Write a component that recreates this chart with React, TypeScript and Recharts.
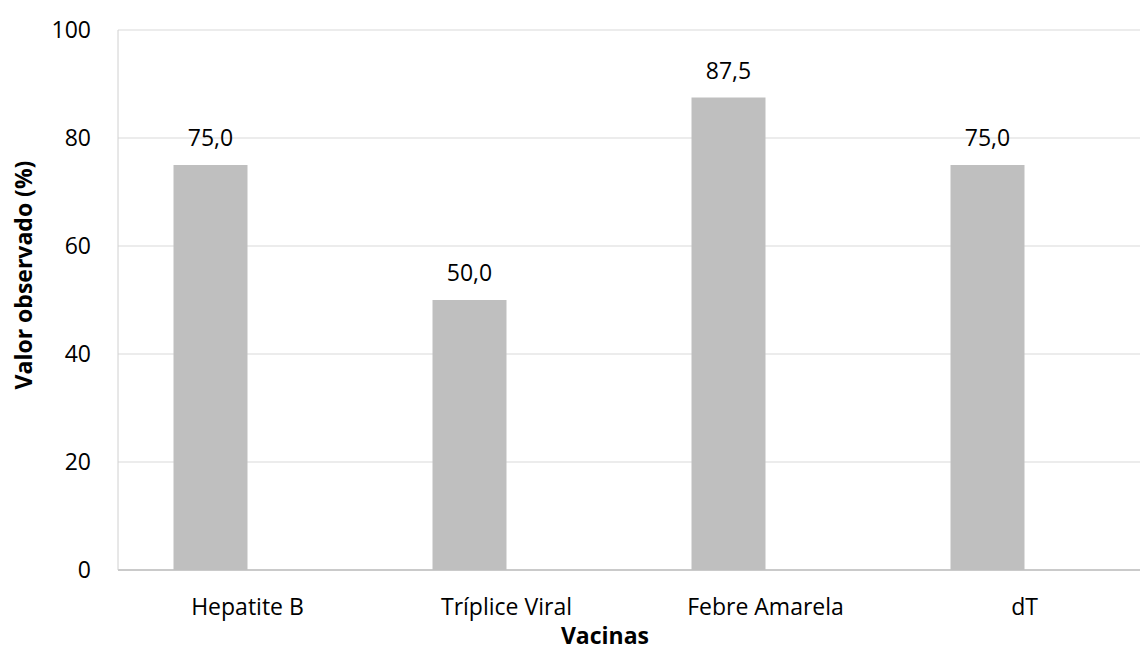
import React from 'react'
import { BarChart, Bar, XAxis, YAxis, CartesianGrid, LabelList, Label } from 'recharts'

// ─── Dados ───────────────────────────────────────────────────────────
const vacinas = ['Hepatite B', 'Tríplice Viral', 'Febre Amarela', 'dT']
const valores = [75.0, 50.0, 87.5, 75.0]
// segunda série vazia do gráfico original (ocupa o espaço à direita da barra)
const serieVazia: (number | null)[] = [null, null, null, null]
const yTicks = [0, 20, 40, 60, 80, 100]

const data = vacinas.map((v, i) => ({ vacina: v, valor: valores[i], vazio: serieVazia[i] }))

const FONT = '"Open Sans", sans-serif'
const fmt = (v: any) => Number(v).toFixed(1).replace('.', ',')

export default function App() {
  return (
    <div style={{ position: 'absolute', left: 0, top: 0, width: 1140, height: 651, overflow: 'hidden', background: '#fff' }}>
      <BarChart
        width={1160}
        height={651}
        data={data}
        margin={{ top: 30, right: 6, left: 0, bottom: 41 }}
        barCategoryGap={55.5}
        barGap={0}
        style={{ fontFamily: FONT }}
      >
        <CartesianGrid vertical={false} stroke="#d9d9d9" strokeWidth={1} />
        <XAxis
          dataKey="vacina"
          height={40}
          axisLine={{ stroke: '#bfbfbf', strokeWidth: 1.5 }}
          tickLine={false}
          tickSize={0}
          tickMargin={29}
          tick={{ fontSize: 23, fill: '#000', fontFamily: FONT }}
          interval={0}
        >
          <Label
            content={({ viewBox }: any) => (
              <text
                x={viewBox.x + viewBox.width / 2 - 31}
                y={644}
                textAnchor="middle"
                fontSize={23}
                fontWeight={700}
                fill="#000"
                fontFamily={FONT}
              >
                Vacinas
              </text>
            )}
          />
        </XAxis>
        <YAxis
          width={118}
          domain={[0, 100]}
          ticks={yTicks}
          axisLine={{ stroke: '#d0d0d0', strokeWidth: 1 }}
          tickLine={false}
          tickSize={0}
          tickMargin={27}
          tick={{ fontSize: 23, fill: '#000', fontFamily: FONT }}
        >
          <Label
            content={({ viewBox }: any) => {
              const cx = 23
              const cy = viewBox.y + viewBox.height / 2 - 25
              return (
                <text
                  x={cx}
                  y={cy}
                  transform={`rotate(-90, ${cx}, ${cy})`}
                  textAnchor="middle"
                  dominantBaseline="central"
                  fontSize={23}
                  fontWeight={700}
                  fill="#000"
                  fontFamily={FONT}
                >
                  Valor observado (%)
                </text>
              )
            }}
          />
        </YAxis>
        <Bar dataKey="valor" fill="#bfbfbf" isAnimationActive={false}>
          <LabelList
            dataKey="valor"
            position="top"
            offset={19}
            formatter={fmt}
            style={{ fontSize: 23, fill: '#000', fontFamily: FONT }}
          />
        </Bar>
        <Bar dataKey="vazio" fill="#bfbfbf" isAnimationActive={false} />
      </BarChart>
    </div>
  )
}
